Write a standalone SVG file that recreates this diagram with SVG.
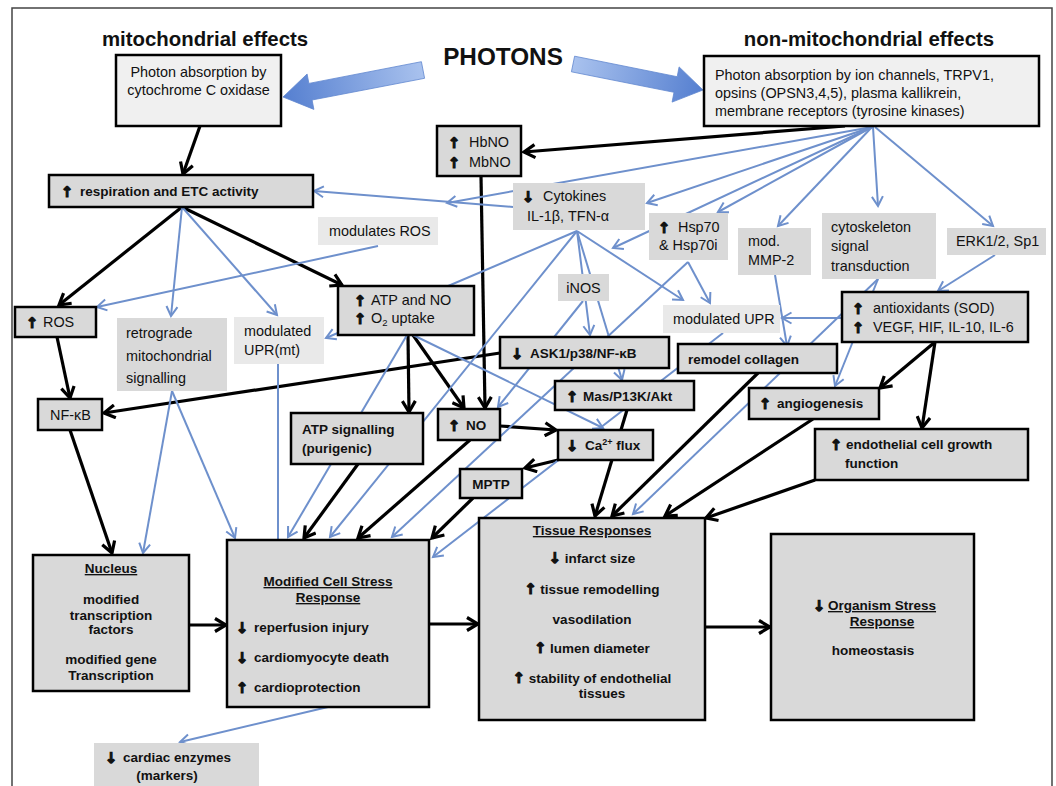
<svg xmlns="http://www.w3.org/2000/svg" width="1056" height="786" viewBox="0 0 1056 786">
<style>
  text { font-family: "Liberation Sans", Arial, sans-serif; fill: #111; }
  .r { font-size: 14.4px; }
  .b { font-size: 13.5px; font-weight: bold; }
  .t { font-size: 20.4px; font-weight: bold; }
  .ar { font-family: "DejaVu Sans", sans-serif; font-weight: bold; font-size: 14.5px; stroke: #111; stroke-width: 1.2; }
  .u { text-decoration: underline; }
  .c { text-anchor: middle; }
  .bx { fill: #d9d9d9; stroke: #000; stroke-width: 2.5; }
  .bx1 { fill: #f0f0f0; stroke: #000; stroke-width: 2.5; }
  .gb { fill: #d9d9d9; stroke: none; }
  .lb { fill: #e9e9e9; stroke: none; }
  .k { stroke: #000; stroke-width: 3.2; fill: none; marker-end: url(#ak); }
  .bl { stroke: #6e90cc; stroke-width: 2; fill: none; marker-end: url(#ab); }
</style>
<defs>
  <marker id="ak" markerUnits="userSpaceOnUse" viewBox="0 0 16 16" markerWidth="16" markerHeight="16" refX="13" refY="8" orient="auto">
    <path d="M2,1.5 L13,8 L2,14.5" fill="none" stroke="#000" stroke-width="3.2"/>
  </marker>
  <marker id="ab" markerUnits="userSpaceOnUse" viewBox="0 0 14 14" markerWidth="14" markerHeight="14" refX="11.5" refY="7" orient="auto">
    <path d="M2,1.5 L11.5,7 L2,12.5" fill="none" stroke="#6e90cc" stroke-width="2"/>
  </marker>
  <linearGradient id="gl" gradientUnits="userSpaceOnUse" x1="423" y1="70" x2="283" y2="97">
    <stop offset="0" stop-color="#a9c2ee"/>
    <stop offset="1" stop-color="#557fd0"/>
  </linearGradient>
  <linearGradient id="gr" gradientUnits="userSpaceOnUse" x1="573" y1="64" x2="703" y2="90">
    <stop offset="0" stop-color="#a9c2ee"/>
    <stop offset="1" stop-color="#557fd0"/>
  </linearGradient>
</defs>

<rect x="0" y="0" width="1056" height="786" fill="#fff"/>
<path d="M12,790 L12,8 L1052,8 L1052,790" fill="none" stroke="#444" stroke-width="1.5"/>

<g id="titles">
  <text class="t c" x="205" y="46">mitochondrial effects</text>
  <text class="c" x="503" y="65" font-size="24.3" font-weight="bold">PHOTONS</text>
  <text class="t c" x="869" y="46">non-mitochondrial effects</text>
</g>

<g id="photon-arrows">
  <polygon points="421.4,61.7 308.9,83.4 307.1,74.0 283,97 313.9,109.4 312.1,100.0 424.6,78.3" fill="url(#gl)" stroke="#5f86cf" stroke-width="0.8"/>
  <polygon points="574.6,56.2 677.2,76.7 679.1,66.9 703,90 672.1,102.1 674.0,92.3 571.4,71.8" fill="url(#gr)" stroke="#5f86cf" stroke-width="0.8"/>
</g>

<g id="connectors">
  <!-- black -->
  <line class="k" x1="200" y1="126" x2="183" y2="174"/>
  <line class="k" x1="845" y1="126" x2="524" y2="152"/>
  <line class="k" x1="481" y1="176" x2="485" y2="408"/>
  <line class="k" x1="182" y1="207" x2="59" y2="305"/>
  <line class="k" x1="182" y1="207" x2="342" y2="285"/>
  <line class="k" x1="57" y1="337" x2="70" y2="398"/>
  <line class="k" x1="500" y1="353" x2="104" y2="413"/>
  <line class="k" x1="408" y1="335" x2="409" y2="412"/>
  <line class="k" x1="413" y1="335" x2="464" y2="408"/>
  <line class="k" x1="70" y1="430" x2="112" y2="553"/>
  <line class="k" x1="189" y1="625" x2="226" y2="625"/>
  <line class="k" x1="358" y1="464" x2="304" y2="538"/>
  <line class="k" x1="470" y1="440" x2="358" y2="538"/>
  <line class="k" x1="473" y1="498" x2="432" y2="538"/>
  <line class="k" x1="500" y1="426" x2="556" y2="430"/>
  <line class="k" x1="558" y1="460" x2="525" y2="468"/>
  <line class="k" x1="627" y1="410" x2="595" y2="516"/>
  <line class="k" x1="758" y1="373" x2="612" y2="516"/>
  <line class="k" x1="813" y1="419" x2="665" y2="516"/>
  <line class="k" x1="815" y1="480" x2="706" y2="518"/>
  <line class="k" x1="935" y1="342" x2="880" y2="388"/>
  <line class="k" x1="935" y1="342" x2="922" y2="428"/>
  <line class="k" x1="429" y1="624" x2="478" y2="624"/>
  <line class="k" x1="705" y1="627" x2="770" y2="627"/>
  <!-- blue -->
  <line class="bl" x1="872" y1="127" x2="447" y2="203"/>
  <line class="bl" x1="513" y1="207" x2="314" y2="191"/>
  <line class="bl" x1="872" y1="127" x2="647" y2="203"/>
  <line class="bl" x1="872" y1="127" x2="718" y2="212"/>
  <line class="bl" x1="872" y1="127" x2="613" y2="248"/>
  <line class="bl" x1="872" y1="127" x2="778" y2="226"/>
  <line class="bl" x1="873" y1="127" x2="878" y2="206"/>
  <line class="bl" x1="875" y1="127" x2="993" y2="226"/>
  <line class="bl" x1="378" y1="246" x2="97" y2="307"/>
  <line class="bl" x1="182" y1="207" x2="171" y2="316"/>
  <line class="bl" x1="182" y1="207" x2="277" y2="315"/>
  <line class="bl" x1="577" y1="231" x2="326" y2="338"/>
  <line class="bl" x1="577" y1="231" x2="590" y2="335"/>
  <line class="bl" x1="577" y1="231" x2="622" y2="380"/>
  <line class="bl" x1="577" y1="231" x2="683" y2="300"/>
  <line class="bl" x1="577" y1="231" x2="330" y2="537"/>
  <line class="bl" x1="688" y1="262" x2="710" y2="303"/>
  <line class="bl" x1="688" y1="262" x2="392" y2="537"/>
  <line class="bl" x1="583" y1="301" x2="498" y2="407"/>
  <line class="bl" x1="413" y1="335" x2="603" y2="428"/>
  <line class="bl" x1="407" y1="335" x2="288" y2="537"/>
  <line class="bl" x1="172" y1="391" x2="143" y2="553"/>
  <line class="bl" x1="172" y1="391" x2="235" y2="538"/>
  <line class="bl" x1="278" y1="364" x2="278" y2="567"/>
  <line class="bl" x1="723" y1="333" x2="433" y2="557"/>
  <line class="bl" x1="842" y1="318" x2="782" y2="318"/>
  <line class="bl" x1="995" y1="255" x2="938" y2="291"/>
  <line class="bl" x1="775" y1="275" x2="787" y2="346"/>
  <line class="bl" x1="878" y1="279" x2="835" y2="386"/>
  <line class="bl" x1="878" y1="279" x2="633" y2="514"/>
  <line class="bl" x1="328" y1="707" x2="180" y2="742"/>
</g>

<g id="n-cox">
  <rect class="bx1" x="116" y="55" width="165" height="71"/>
  <text class="r c" x="198.5" y="77">Photon absorption by</text>
  <text class="r c" x="198.5" y="95">cytochrome C oxidase</text>
</g>
<g id="n-nonmito">
  <rect class="bx1" x="704" y="56" width="335" height="70"/>
  <text class="r" x="715" y="80">Photon absorption by ion channels, TRPV1,</text>
  <text class="r" x="715" y="98">opsins (OPSN3,4,5), plasma kallikrein,</text>
  <text class="r" x="715" y="116">membrane receptors (tyrosine kinases)</text>
</g>
<g id="n-resp">
  <rect class="bx" x="49" y="175" width="264" height="32"/>
  <text class="ar" x="61" y="197">↑</text>
  <text class="b" x="80" y="196">respiration and ETC  activity</text>
</g>
<g id="n-hbno">
  <rect class="bx" x="437" y="126" width="84" height="50"/>
  <text class="ar" x="448" y="148">↑</text>
  <text class="r" x="469" y="147">HbNO</text>
  <text class="ar" x="448" y="168">↑</text>
  <text class="r" x="469" y="167">MbNO</text>
</g>
<g id="n-cytokines">
  <rect class="gb" x="513" y="183" width="132" height="47"/>
  <text class="ar" x="522" y="202">↓</text>
  <text class="r" x="543" y="201">Cytokines</text>
  <text class="r" x="527" y="221">IL-1β, TFN-α</text>
</g>
<g id="n-modros">
  <rect class="lb" x="318" y="217" width="120" height="28"/>
  <text class="r" x="329" y="236">modulates ROS</text>
</g>
<g id="n-hsp">
  <rect class="gb" x="649" y="213" width="79" height="47"/>
  <text class="ar" x="658" y="233">↑</text>
  <text class="r" x="678" y="232">Hsp70</text>
  <text class="r" x="659" y="250">&amp; Hsp70i</text>
</g>
<g id="n-mmp">
  <rect class="gb" x="738" y="228" width="73" height="47"/>
  <text class="r" x="748" y="246">mod.</text>
  <text class="r" x="748" y="265">MMP-2</text>
</g>
<g id="n-cytoskel">
  <rect class="gb" x="822" y="213" width="114" height="66"/>
  <text class="r" x="831" y="232">cytoskeleton</text>
  <text class="r" x="831" y="251">signal</text>
  <text class="r" x="831" y="271">transduction</text>
</g>
<g id="n-erk">
  <rect class="gb" x="947" y="228" width="99" height="27"/>
  <text class="r" x="956" y="246">ERK1/2, Sp1</text>
</g>
<g id="n-ros">
  <rect class="bx" x="15" y="307" width="81" height="30"/>
  <text class="ar" x="26" y="328">↑</text>
  <text class="r" x="43" y="327">ROS</text>
</g>
<g id="n-retro">
  <rect class="gb" x="117" y="318" width="110" height="73"/>
  <text class="r" x="126" y="338">retrograde</text>
  <text class="r" x="126" y="361">mitochondrial</text>
  <text class="r" x="126" y="383">signalling</text>
</g>
<g id="n-uprmt">
  <rect class="lb" x="234" y="317" width="90" height="47"/>
  <text class="r" x="244" y="336">modulated</text>
  <text class="r" x="244" y="355">UPR(mt)</text>
</g>
<g id="n-atpno">
  <rect class="bx" x="338" y="286" width="136" height="49"/>
  <text class="ar" x="354" y="306">↑</text>
  <text class="r" x="371" y="305">ATP and NO</text>
  <text class="ar" x="354" y="324">↑</text>
  <text class="r" x="371" y="323">O<tspan font-size="9.5" dy="3">2</tspan><tspan dy="-3"> uptake</tspan></text>
</g>
<g id="n-inos">
  <rect class="gb" x="558" y="274" width="51" height="27"/>
  <text class="r c" x="583.5" y="293">iNOS</text>
</g>
<g id="n-modupr">
  <rect class="lb" x="663" y="305" width="117" height="28"/>
  <text class="r" x="673" y="324">modulated UPR</text>
</g>
<g id="n-antiox">
  <rect class="bx" x="842" y="292" width="186" height="50"/>
  <text class="ar" x="852" y="314">↑</text>
  <text class="r" x="873" y="313">antioxidants (SOD)</text>
  <text class="ar" x="852" y="333">↑</text>
  <text class="r" x="873" y="332">VEGF,  HIF, IL-10, IL-6</text>
</g>
<g id="n-ask1">
  <rect class="bx" x="500" y="337" width="169" height="31"/>
  <text class="ar" x="511" y="359">↓</text>
  <text class="b" x="530" y="358">ASK1/p38/NF-κB</text>
</g>
<g id="n-collagen">
  <rect class="bx" x="678" y="344" width="159" height="29"/>
  <text class="b" x="688" y="364">remodel collagen</text>
</g>
<g id="n-mas">
  <rect class="bx" x="555" y="381" width="139" height="29"/>
  <text class="ar" x="566" y="402">↑</text>
  <text class="b" x="583" y="401">Mas/P13K/Akt</text>
</g>
<g id="n-angio">
  <rect class="bx" x="749" y="388" width="130" height="31"/>
  <text class="ar" x="759" y="409">↑</text>
  <text class="b" x="777" y="408">angiogenesis</text>
</g>
<g id="n-nfkb">
  <rect class="bx" x="38" y="399" width="64" height="31"/>
  <text class="r" x="50" y="420">NF-κB</text>
</g>
<g id="n-atpsig">
  <rect class="bx" x="291" y="413" width="132" height="51"/>
  <text class="b" x="302" y="434">ATP signalling</text>
  <text class="b" x="302" y="453">(purigenic)</text>
</g>
<g id="n-no">
  <rect class="bx" x="438" y="409" width="62" height="31"/>
  <text class="ar" x="448" y="431">↑</text>
  <text class="b" x="466" y="430">NO</text>
</g>
<g id="n-ca">
  <rect class="bx" x="558" y="430" width="95" height="30"/>
  <text class="ar" x="566" y="451">↓</text>
  <text class="b" x="585" y="450">Ca<tspan font-size="9" dy="-5">2+</tspan><tspan dy="5"> flux</tspan></text>
</g>
<g id="n-mptp">
  <rect class="bx" x="460" y="469" width="62" height="29"/>
  <text class="b c" x="491" y="489">MPTP</text>
</g>
<g id="n-endo">
  <rect class="bx" x="815" y="429" width="213" height="51"/>
  <text class="ar" x="830" y="450">↑</text>
  <text class="b" x="846" y="449">endothelial cell growth</text>
  <text class="b" x="845" y="468">function</text>
</g>
<g id="n-nucleus">
  <rect class="bx" x="33" y="555" width="156" height="136"/>
  <text class="b c u" x="111" y="573">Nucleus</text>
  <text class="b c" x="111" y="604">modified</text>
  <text class="b c" x="111" y="620">transcription</text>
  <text class="b c" x="111" y="634">factors</text>
  <text class="b c" x="111" y="664">modified gene</text>
  <text class="b c" x="111" y="680">Transcription</text>
</g>
<g id="n-cellstress">
  <rect class="bx" x="227" y="540" width="202" height="167"/>
  <text class="b c u" x="328" y="586">Modified Cell Stress</text>
  <text class="b c u" x="328" y="602">Response</text>
  <text class="ar" x="236" y="633">↓</text>
  <text class="b" x="254" y="632">reperfusion injury</text>
  <text class="ar" x="236" y="663">↓</text>
  <text class="b" x="254" y="662">cardiomyocyte death</text>
  <text class="ar" x="236" y="693">↑</text>
  <text class="b" x="254" y="692">cardioprotection</text>
</g>
<g id="n-tissue">
  <rect class="bx" x="479" y="518" width="226" height="202"/>
  <text class="b c u" x="592" y="535">Tissue  Responses</text>
  <text class="b c" x="592" y="563"><tspan class="ar">↓</tspan> infarct size</text>
  <text class="b c" x="592" y="594"><tspan class="ar">↑</tspan> tissue remodelling</text>
  <text class="b c" x="592" y="624">vasodilation</text>
  <text class="b c" x="592" y="653"><tspan class="ar">↑</tspan>  lumen diameter</text>
  <text class="b c" x="592" y="683"><tspan class="ar">↑</tspan>  stability of endothelial</text>
  <text class="b c" x="602" y="698">tissues</text>
</g>
<g id="n-organism">
  <rect class="bx" x="771" y="534" width="203" height="186"/>
  <text class="ar" x="813" y="611">↓</text>
  <text class="b u" x="828" y="610">Organism  Stress</text>
  <text class="b c u" x="882" y="626">Response</text>
  <text class="b c" x="873" y="655">homeostasis</text>
</g>
<g id="n-cardiac">
  <rect class="gb" x="94" y="743" width="165" height="50"/>
  <text class="ar" x="105" y="763">↓</text>
  <text class="b" x="123" y="762">cardiac enzymes</text>
  <text class="b c" x="167" y="780">(markers)</text>
</g>
</svg>
